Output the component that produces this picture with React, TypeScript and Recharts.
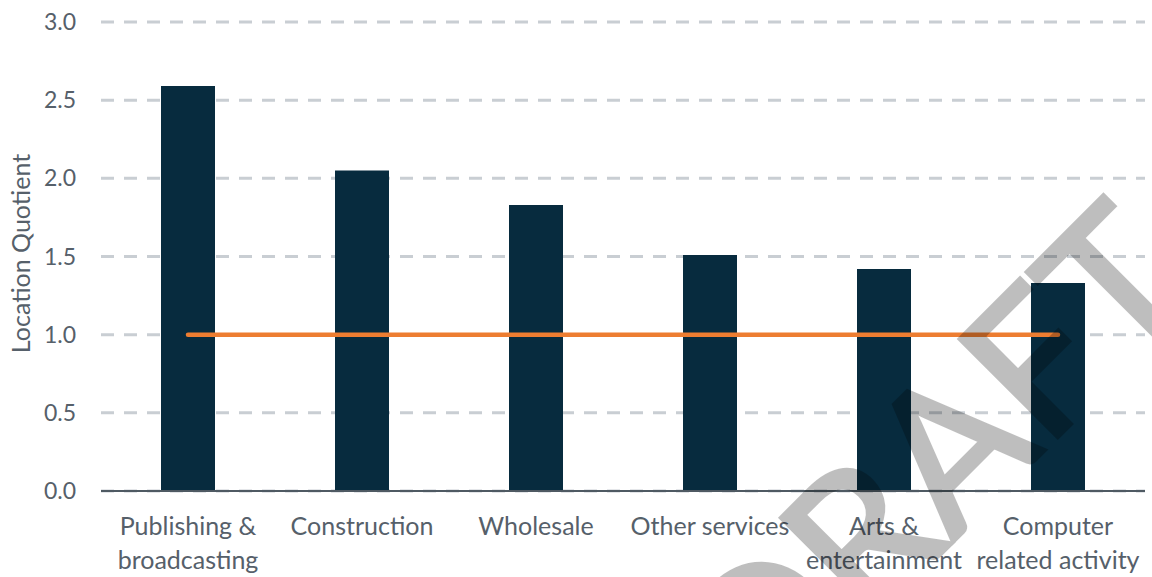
import React from 'react';
import { ComposedChart, Bar, Line, XAxis, YAxis, CartesianGrid } from 'recharts';

const categories = [
  'Publishing &\nbroadcasting',
  'Construction',
  'Wholesale',
  'Other services',
  'Arts &\nentertainment',
  'Computer\nrelated activity',
];
const locationQuotient = [2.59, 2.05, 1.83, 1.51, 1.42, 1.33];
const benchmark = [1, 1, 1, 1, 1, 1];
const yTicks = [0, 0.5, 1, 1.5, 2, 2.5, 3];

const data = categories.map((name, i) => ({
  name,
  lq: locationQuotient[i],
  base: benchmark[i],
}));

const FONT = 'Lato, "Open Sans", sans-serif';
const TEXT = '#56606A';

const XTick = (props: any) => {
  const { x, y, payload } = props;
  const lines = String(payload.value).split('\n');
  return (
    <g>
      {lines.map((ln: string, i: number) => (
        <text
          key={i}
          x={x}
          y={y + 44 + i * 34}
          textAnchor="middle"
          fill={TEXT}
          fontSize={25}
          fontFamily={FONT}
        >
          {ln}
        </text>
      ))}
    </g>
  );
};

export default function App() {
  return (
    <div style={{ position: 'absolute', left: 0, top: 0, width: 1152, height: 577, background: '#fff' }}>
      <ComposedChart
        width={1152}
        height={577}
        data={data}
        margin={{ top: 22, right: 7, bottom: 0, left: 0 }}
        barCategoryGap={0}
      >
        <CartesianGrid vertical={false} stroke="#C9CED3" strokeWidth={3} strokeDasharray="13 10" />
        <XAxis
          dataKey="name"
          height={86}
          tickLine={false}
          tickSize={0}
          tickMargin={0}
          axisLine={{ stroke: '#4F5A63', strokeWidth: 2 }}
          tick={<XTick />}
          interval={0}
        />
        <YAxis
          width={101}
          domain={[0, 3]}
          ticks={yTicks}
          tickFormatter={(v: number) => v.toFixed(1)}
          axisLine={false}
          tickLine={false}
          tickSize={0}
          tickMargin={25}
          tick={{ fill: TEXT, fontSize: 23, fontFamily: FONT }}
          label={{
            value: 'Location Quotient',
            angle: -90,
            position: 'insideLeft',
            offset: 21,
            dy: -3,
            style: { textAnchor: 'middle', fill: TEXT, fontSize: 25, fontFamily: FONT },
          }}
        />
        <Bar dataKey="lq" fill="#072B3E" barSize={54} isAnimationActive={false} />
        <Line
          dataKey="base"
          type="linear"
          stroke="#ED7D31"
          strokeWidth={4.5}
          strokeLinecap="round"
          dot={false}
          activeDot={false}
          isAnimationActive={false}
        />
      </ComposedChart>
      <svg
        width={1152}
        height={577}
        style={{ position: 'absolute', left: 0, top: 0, pointerEvents: 'none' }}
      >
        <g opacity={0.25}>
          <text
            x={983}
            y={512}
            transform="rotate(-45 983 512)"
            textAnchor="middle"
            fontSize={194}
            fontFamily={FONT}
            fill="#000"
            stroke="#000"
            strokeWidth={4}
          >
            DRAFT
          </text>
        </g>
      </svg>
    </div>
  );
}
